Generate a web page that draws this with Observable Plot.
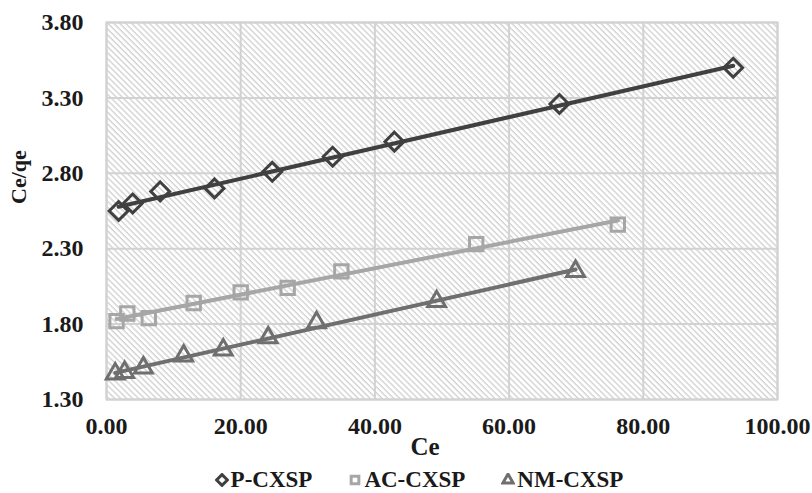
<!DOCTYPE html>
<html>
<head>
<meta charset="utf-8">
<script src="https://cdn.jsdelivr.net/npm/d3@7"></script>
<script src="https://cdn.jsdelivr.net/npm/@observablehq/plot@0.6"></script>
<style>
  html, body { margin: 0; padding: 0; background: #ffffff; }
  #wrap { width: 812px; height: 493px; position: relative; overflow: hidden; }
  #legend {
    position: absolute; left: 0; top: 468px; width: 812px; height: 24px;
    display: flex; justify-content: center; align-items: center; gap: 36px;
    font-family: "Liberation Serif", "Times New Roman", serif; font-weight: bold;
    font-size: 23px; line-height: 22px; color: #1a1a1a; padding-left: 26px; box-sizing: border-box;
  }
  #legend .item { display: flex; align-items: center; gap: 2px; }
  #legend svg { display: block; }
</style>
</head>
<body>
<div id="wrap"><div id="chart"></div><div id="legend"></div></div>
<script>
// Series names and colours
const seriesNames = ["P-CXSP", "AC-CXSP", "NM-CXSP"];
const seriesColors = ["#404040", "#a6a6a6", "#6f6f6f"];
const seriesSymbols = ["diamond2", "square2", "triangle2"];

// P-CXSP
const pX = [1.8, 3.9, 8.0, 16.1, 24.7, 33.7, 42.9, 67.5, 93.4];
const pY = [2.55, 2.60, 2.68, 2.70, 2.81, 2.91, 3.01, 3.26, 3.50];
// AC-CXSP
const acX = [1.5, 3.1, 6.3, 13.0, 20.0, 27.0, 35.0, 55.1, 76.2];
const acY = [1.82, 1.87, 1.84, 1.94, 2.01, 2.04, 2.15, 2.33, 2.46];
// NM-CXSP
const nmX = [1.3, 2.7, 5.5, 11.5, 17.4, 24.1, 31.3, 49.2, 69.9];
const nmY = [1.47, 1.48, 1.51, 1.59, 1.63, 1.71, 1.81, 1.95, 2.15];

// Axis ticks
const xTicks = [0, 20, 40, 60, 80, 100];
const yTicks = [1.3, 1.8, 2.3, 2.8, 3.3, 3.8];
const xLabel = "Ce";
const yLabel = "Ce/qe";

const seriesX = [pX, acX, nmX];
const seriesY = [pY, acY, nmY];
const data = seriesNames.flatMap((name, i) =>
  seriesX[i].map((x, j) => ({series: name, x, y: seriesY[i][j]})));

const font = "'Liberation Serif', 'Times New Roman', serif";
const fmt = d3.format(".2f");

const marks = [
  Plot.frame({fill: "url(#hatch)", stroke: "#d2d2d2", strokeWidth: 2}),
  Plot.gridX(xTicks, {stroke: "#d2d2d2", strokeOpacity: 1, strokeWidth: 2}),
  Plot.gridY(yTicks, {stroke: "#d2d2d2", strokeOpacity: 1, strokeWidth: 2}),
  Plot.axisX(xTicks, {tickSize: 0, tickPadding: 17, tickFormat: fmt, label: null,
    fontSize: 24, fontWeight: "bold", fontFamily: font, fill: "#1a1a1a"}),
  Plot.axisY(yTicks, {tickSize: 0, tickPadding: 23, tickFormat: fmt, label: null,
    fontSize: 24, fontWeight: "bold", fontFamily: font, fill: "#1a1a1a"}),
  Plot.text([xLabel], {frameAnchor: "bottom", dx: -17, dy: 55, text: d => d,
    fontSize: 25, fontWeight: "bold", fontFamily: font, fill: "#1a1a1a"}),
  Plot.text([yLabel], {frameAnchor: "left", dx: -88, dy: -7, rotate: -90, text: d => d,
    fontSize: 22, fontWeight: "bold", fontFamily: font, fill: "#1a1a1a"})
];

seriesNames.forEach((name, i) => {
  const d = data.filter(r => r.series === name);
  marks.push(Plot.linearRegressionY(d, {x: "x", y: "y", stroke: seriesColors[i], strokeWidth: 4, ci: 0}));
  marks.push(Plot.dot(d, {x: "x", y: "y", symbol: () => seriesSymbols[i], r: 8.5,
    stroke: seriesColors[i], strokeWidth: 3, fill: "none"}));
});

const chart = Plot.plot({
  width: 812,
  height: 466,
  marginLeft: 106,
  marginRight: 35,
  marginTop: 22,
  marginBottom: 67,
  style: {background: "transparent", overflow: "visible"},
  x: {domain: [0, 100]},
  y: {domain: [1.3, 3.8]},
  symbol: {domain: seriesSymbols, range: seriesSymbols},
  marks
});

chart.insertAdjacentHTML("afterbegin",
  `<defs><pattern id="hatch" patternUnits="userSpaceOnUse" width="4.2" height="4.2" patternTransform="rotate(-45)">
     <rect width="4.2" height="4.2" fill="#ffffff"></rect>
     <line x1="1" y1="0" x2="1" y2="4.2" stroke="#cfcfcf" stroke-width="1.3"></line>
   </pattern></defs>`);
document.getElementById("chart").appendChild(chart);

// Legend
const legendSymbols = [d3.symbolDiamond2, d3.symbolSquare2, d3.symbolTriangle2];
const legend = document.getElementById("legend");
seriesNames.forEach((name, i) => {
  const item = document.createElement("div");
  item.className = "item";
  const sz = 14;
  const sym = d3.symbol(legendSymbols[i], 75)();
  item.innerHTML = `<svg width="${sz}" height="${sz}" viewBox="${-sz/2} ${-sz/2} ${sz} ${sz}">
    <path d="${sym}" fill="none" stroke="${seriesColors[i]}" stroke-width="3"></path></svg><span>${name}</span>`;
  legend.appendChild(item);
});
</script>
</body>
</html>
